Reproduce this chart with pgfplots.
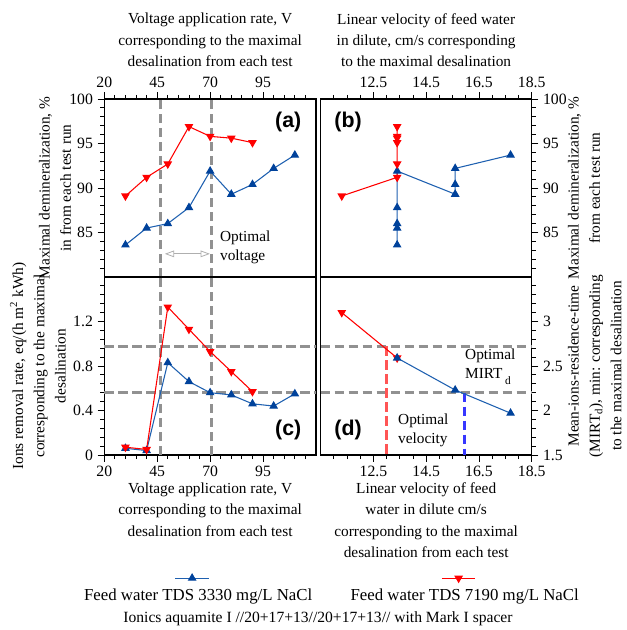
\documentclass[border=0pt]{standalone}
\usepackage{fontspec}
\setmainfont{Liberation Serif}
\setsansfont{Liberation Sans}
\usepackage{pgfplots}
\pgfplotsset{compat=1.18}
\usetikzlibrary{arrows.meta}

\definecolor{serB}{RGB}{30,96,176}
\definecolor{mkB}{RGB}{0,66,155}
\definecolor{serR}{RGB}{255,0,0}
\definecolor{refg}{RGB}{145,145,145}
\definecolor{arrg}{RGB}{175,175,175}
\definecolor{velR}{RGB}{255,85,85}
\definecolor{velB}{RGB}{55,55,255}

\newcommand\lbl{\fontsize{11.5}{16}\selectfont}
\newcommand\tck{\fontsize{11.8}{14}\selectfont}
\newcommand\ann{\fontsize{11.5}{14.5}\selectfont}
\newcommand\leg{\fontsize{12.6}{14}\selectfont}
\newcommand\foot{\fontsize{11.7}{14}\selectfont}
\newcommand\panel[1]{{\fontsize{16}{18}\selectfont\sffamily\bfseries #1}}

\tikzset{refline/.style={refg, line width=2pt, dash pattern=on 7pt off 3.5pt}}
\pgfplotsset{
  frame/.style={
    scale only axis, width=158.8pt, height=133.5pt,
    label style={font=\lbl, align=center},
    tick label style={font=\tck},
    /pgf/number format/assume math mode=true,
    axis line style={line width=0.8pt},
    tick style={line width=0.6pt, black},
    major tick length=5pt, minor tick length=3pt,
    tick align=outside,
    clip=false,
  },
  s3330/.style={serB, line width=0.8pt, mark=triangle*, mark size=3pt,
    mark options={fill=mkB, draw=mkB, solid}},
  s7190/.style={serR, line width=0.8pt, mark=triangle*, mark size=3pt,
    mark options={fill=serR, draw=serR, rotate=180, solid}},
}

\begin{document}
\begin{tikzpicture}
\useasboundingbox (-78.2pt,-264.75pt) rectangle (392pt,207.75pt);

% (a) demineralization vs voltage
\begin{axis}[frame, name=A, at={(0,0)}, anchor=south west,
  xmin=20, xmax=120, ymin=80, ymax=100,
  xtick={20,45,70,95}, minor xtick={25,30,...,115},
  xtick pos=right, xticklabel pos=right,
  ytick={85,90,95,100}, minor ytick={81,...,99},
  ytick pos=left,
  xlabel={Voltage application rate, V\\corresponding to the maximal\\desalination from each test},
  xlabel style={at={(axis description cs:0.5,1.331)}, anchor=center},
  ylabel={Maximal demineralization, \%\\in from each test run},
  ylabel style={at={(axis description cs:-0.233,0.5)}, anchor=center},
]
\draw[refline] (axis cs:46.7,80) -- (axis cs:46.7,100);
\draw[refline] (axis cs:70.6,80) -- (axis cs:70.6,100);
\addplot[s3330] coordinates {
  (30,83.6)(40,85.5)(50,86.0)(60,87.8)(70,91.9)(80,89.3)(90,90.4)(100,92.2)(110,93.7)};
\addplot[s7190] coordinates {
  (30,89.1)(40,91.2)(50,92.7)(60,96.9)(70,95.8)(80,95.6)(90,95.1)};
\draw[arrg, line width=0.6pt, {Triangle[open,length=7pt,width=5pt]}-{Triangle[open,length=7pt,width=5pt]}]
  (axis cs:48.6,82.6) -- (axis cs:69.9,82.6);
\node[font=\ann, anchor=west, align=left, inner sep=0pt] at (axis cs:74.6,83.3) {Optimal\\voltage};
\node at (rel axis cs:0.869,0.871) {\panel{(a)}};
\end{axis}

% (b) demineralization vs velocity
\begin{axis}[frame, name=B, at={(162.3pt,0)}, anchor=south west, width=158.25pt,
  xmin=10.5, xmax=18.5, ymin=80, ymax=100,
  xtick={12.5,14.5,16.5,18.5}, minor xtick={11,11.5,...,18},
  xtick pos=right, xticklabel pos=right,
  ytick={85,90,95,100}, minor ytick={81,...,99},
  ytick pos=right, yticklabel pos=right,
  xlabel={Linear velocity of feed water\\in dilute, cm/s corresponding\\to the maximal desalination},
  xlabel style={at={(axis description cs:0.5,1.331)}, anchor=center},
  ylabel={Maximal demineralization, \%\\from each test run},
  ylabel style={at={(axis description cs:1.248,0.5)}, anchor=center},
]
\addplot[s3330] coordinates {
  (13.4,83.6)(13.4,85.5)(13.4,86.0)(13.4,87.8)(13.4,91.9)(15.6,89.3)(15.6,90.4)(15.6,92.2)(17.7,93.7)};
\addplot[s7190] coordinates {
  (11.3,89.1)(13.4,91.2)(13.4,92.7)(13.4,95.1)(13.4,95.6)(13.4,95.8)(13.4,96.9)};
\node at (rel axis cs:0.13,0.871) {\panel{(b)}};
\end{axis}

% (c) removal rate vs voltage
\begin{axis}[frame, name=C, at={(0,0)}, anchor=north west,
  xmin=20, xmax=120, ymin=0, ymax=1.6,
  xtick={20,45,70,95}, minor xtick={25,30,...,115},
  xtick pos=left, ytick pos=left,
  ytick={0,0.4,0.8,1.2}, yticklabels={0,0.4,0.8,1.2},
  minor ytick={0.08,0.16,...,1.52},
  xlabel={Voltage application rate, V\\corresponding to the maximal\\desalination from each test},
  xlabel style={at={(axis description cs:0.5,-0.307)}, anchor=center},
  ylabel={Ions removal rate, eq/(h m\textsuperscript{2} kWh)\\corresponding to the maximal\\desalination},
  ylabel style={at={(axis description cs:-0.313,0.5)}, anchor=center},
  legend style={at={(axis description cs:1.073,-0.793)}, anchor=center,
    draw=none, fill=none, font=\leg, legend columns=2,
    /tikz/every even column/.append style={column sep=24.75pt}},
  legend image code/.code={%
    \begin{scope}[overlay, shift={(83pt,13.5pt)}]
    \draw[mark repeat=2, mark phase=2, #1] plot coordinates {(-12.5pt,0pt)(0pt,0pt)(12.5pt,0pt)};
    \end{scope}},
]
\draw[refline] (axis cs:46.7,0) -- (axis cs:46.7,1.6);
\draw[refline] (axis cs:70.6,0) -- (axis cs:70.6,1.6);
\draw[refline] (axis cs:20,0.974) -- (axis cs:120,0.974);
\draw[refline] (axis cs:20,0.563) -- (axis cs:120,0.563);
\addplot[s3330] coordinates {
  (30,0.06)(40,0.04)(50,0.83)(60,0.66)(70,0.56)(80,0.54)(90,0.46)(100,0.44)(110,0.55)};
\addlegendentry{Feed water TDS 3330 mg/L NaCl}
\addplot[s7190] coordinates {
  (30,0.07)(40,0.05)(50,1.33)(60,1.13)(70,0.93)(80,0.75)(90,0.57)};
\addlegendentry{Feed water TDS 7190 mg/L NaCl}
\node at (rel axis cs:0.869,0.14) {\panel{(c)}};
\end{axis}

% (d) MIRT vs velocity
\begin{axis}[frame, name=D, at={(162.3pt,0)}, anchor=north west, width=158.25pt,
  xmin=10.5, xmax=18.5, ymin=1.5, ymax=3.5,
  xtick={12.5,14.5,16.5,18.5}, minor xtick={11,11.5,...,18},
  xtick pos=left, ytick pos=right, yticklabel pos=right,
  ytick={1.5,2,2.5,3}, yticklabels={1.5,2,2.5,3},
  minor ytick={1.6,1.7,...,3.4},
  xlabel={Linear velocity of feed\\water in dilute cm/s\\corresponding to the maximal\\desalination from each test},
  xlabel style={at={(axis description cs:0.5,-0.366)}, anchor=center},
  ylabel={Mean-ions-residence-time\\(MIRT\textsubscript{d}), min: corresponding\\to the maximal desalination},
  ylabel style={at={(axis description cs:1.299,0.5)}, anchor=center},
]
\draw[refline] (axis cs:10.5,2.72) -- (axis cs:18.5,2.72);
\draw[refline] (axis cs:10.5,2.20) -- (axis cs:18.5,2.20);
\draw[velR, line width=2pt, dash pattern=on 7pt off 3.5pt] (axis cs:13.0,2.72) -- (axis cs:13.0,1.5);
\draw[velB, line width=2pt, dash pattern=on 7pt off 3.5pt] (axis cs:15.95,2.20) -- (axis cs:15.95,1.5);
\addplot[s7190] coordinates {(11.3,3.10)(13.4,2.59)};
\addplot[s3330] coordinates {(13.4,2.59)(15.6,2.23)(17.7,1.97)};
\node[font=\ann, anchor=west, align=left, inner sep=0pt] at (axis cs:15.97,2.49)
  {Optimal\\MIRT\,\raisebox{-0.9ex}{\fontsize{8.5}{9}\selectfont d}};
\node[font=\ann, anchor=west, align=left, inner sep=0pt] at (axis cs:13.43,1.78) {Optimal\\velocity};
\node at (rel axis cs:0.13,0.14) {\panel{(d)}};
\end{axis}

\node[font=\foot] at (160.3pt,-256.5pt) {Ionics aquamite I //20+17+13//20+17+13// with Mark I spacer};
\end{tikzpicture}
\end{document}
